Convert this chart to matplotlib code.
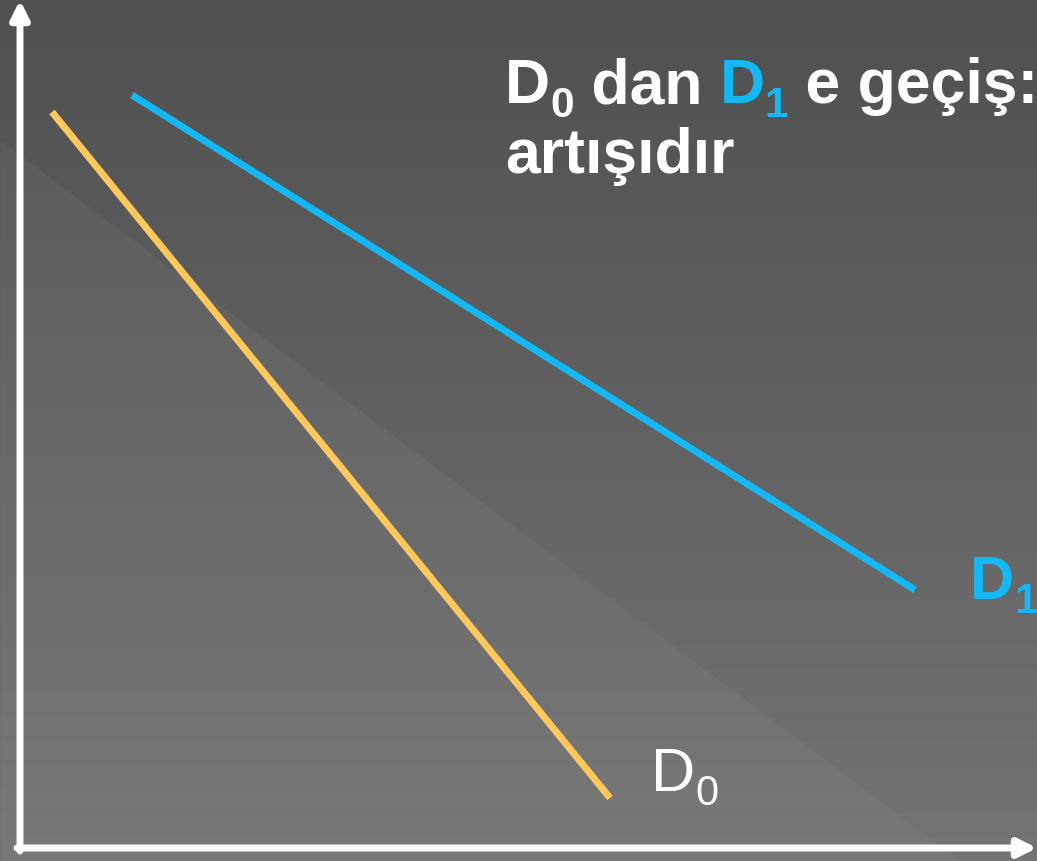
import numpy as np
import matplotlib.pyplot as plt
from matplotlib.patches import Polygon

# Talep eğrileri (miktar, fiyat) - eksen başlangıcına göre
d0_q = [32, 590]
d0_p = [736, 50]
d1_q = [112, 895]
d1_p = [753, 258]

title_line1 = [("D", "white", False), ("0", "white", True), (" dan ", "white", False),
               ("D", "#14B8F5", False), ("1", "#14B8F5", True), (" e geçiş:", "white", False)]
title_line2 = "artışıdır"

orange = "#FFC85C"
blue = "#14B8F5"

W, H = 1037, 861
fig = plt.figure(figsize=(W / 100, H / 100), dpi=100)
ax = fig.add_axes([0, 0, 1, 1])

# arka plan: koyu gri degrade + açık üçgen
grad = np.linspace(80, 116, H)[:, None] / 255.0
bg = np.dstack([grad, grad, grad])
ax.imshow(bg, extent=(-20, W - 20, -13, H - 13), aspect="auto", zorder=0)
ax.set_xlim(-20, W - 20)
ax.set_ylim(-13, H - 13)
ax.axis("off")
tri = Polygon([(-20, H - 13 - 140), (-20, -13), (940, -13)], closed=True,
              facecolor="white", alpha=0.04, edgecolor="#8a8a8a", linewidth=0.6, zorder=1)
ax.add_patch(tri)

# eksenler
arrow = dict(arrowstyle="-|>", color="white", lw=5, mutation_scale=27,
             shrinkA=0, shrinkB=0)
ax.annotate("", xy=(0, H - 13), xytext=(0, -3), arrowprops=arrow, zorder=3)
ax.annotate("", xy=(W - 20, 0), xytext=(-3, 0), arrowprops=arrow, zorder=3)

# eğriler
ax.plot(d0_q, d0_p, color=orange, lw=5, solid_capstyle="butt", zorder=4)
ax.plot(d1_q, d1_p, color=blue, lw=5, solid_capstyle="butt", zorder=4)

fig.canvas.draw()
renderer = fig.canvas.get_renderer()


def runs(x, y, parts, size, weight="bold"):
    for txt, col, sub in parts:
        fs = size * 0.68 if sub else size
        dy = -14 if sub else 0
        t = ax.text(x, y + dy, txt, fontsize=fs, color=col, fontweight=weight,
                    family="Liberation Sans", va="baseline", ha="left", zorder=5)
        bb = t.get_window_extent(renderer)
        x += bb.width


runs(485, 848 - 103, title_line1, 45)
runs(485, 848 - 173, [(title_line2, "white", False)], 45)
runs(631, 848 - 791, [("D", "white", False), ("0", "white", True)], 44, weight="normal")
runs(950, 848 - 599, [("D", blue, False), ("1", blue, True)], 44)

fig.savefig("out.png", dpi=100)
